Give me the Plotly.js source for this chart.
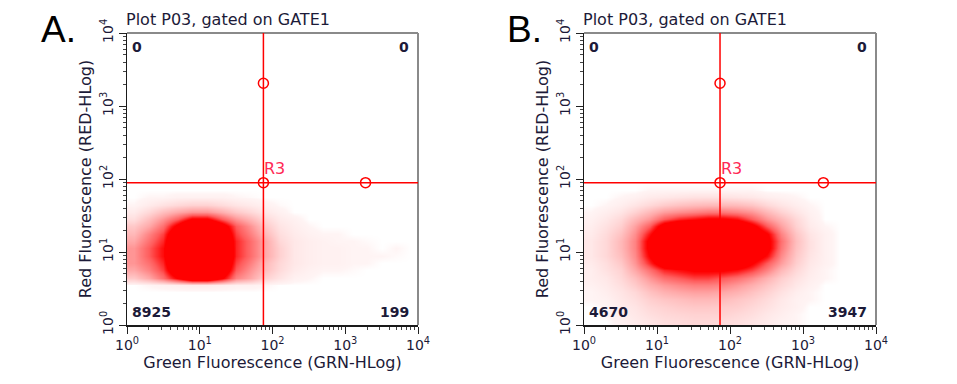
<!DOCTYPE html>
<html>
<head>
<meta charset="utf-8">
<script src="https://cdn.plot.ly/plotly-3.0.1.min.js"></script>
<style>
  html, body { margin: 0; padding: 0; background: #ffffff; }
  #chart { width: 957px; height: 384px; }
</style>
</head>
<body>
<div id="chart"></div>
<script>
// ---------- DATA ----------
const panelLabels = ["A.", "B."];
const plotTitle = "Plot P03, gated on GATE1";
const xAxisTitle = "Green Fluorescence (GRN-HLog)";
const yAxisTitle = "Red Fluorescence (RED-HLog)";
const decades = [0, 1, 2, 3, 4];
const tickLabels = ["10<sup>0</sup>", "10<sup>1</sup>", "10<sup>2</sup>", "10<sup>3</sup>", "10<sup>4</sup>"];

// density grid cell centres, in decades (log10 of fluorescence)
const greenDecadeCenters = [0.1, 0.3, 0.5, 0.7, 0.9, 1.1, 1.3, 1.5, 1.7, 1.9, 2.1, 2.3, 2.5, 2.7, 2.9, 3.1, 3.3, 3.5, 3.7, 3.9];
const redDecadeCenters = [0.05, 0.15, 0.25, 0.35, 0.45, 0.55, 0.65, 0.75, 0.85, 0.95, 1.05, 1.15, 1.25, 1.35, 1.45, 1.55, 1.65, 1.75, 1.85, 1.95];

// relative event density (rows = red bins, bottom to top)
const densityA = [
  [0,0,0,0,0,0,0,0,0,0,0,0,0,0,0,0,0,0,0,0],
  [0,0,0,0,0,0,0,0,0,0,0,0,0,0,0,0,0,0,0,0],
  [0,0,0,0,0,0,0,0,0,0,0,0,0,0,0,0,0,0,0,0],
  [0,0,0,0,0,0,0,0,0,0,0,0,0,0,0,0,0,0,0,0],
  [0,0,0,0,0,0,0,0,0,0,0,0,0,0,0,0,0,0,0,0],
  [0,0.1,0.2,0.3,0.4,0.4,0.3,0.2,0.2,0.1,0,0,0,0,0,0,0,0,0,0],
  [1.5,2.5,4,6.5,9,9,6.5,3.5,2.5,1.2,0.6,0.2,0.1,0,0,0,0,0,0,0],
  [2.5,3.5,5,9,10,10,8.5,4.5,3,1.8,0.9,0.4,0.2,0.1,0.1,0.05,0,0,0,0],
  [3,4,5.5,10,10,10,9.5,5,3.5,2,1,0.5,0.3,0.2,0.2,0.1,0.1,0,0,0],
  [3,4.5,6,10,10,10,10,5.5,4,2.5,1.2,0.5,0.3,0.2,0.2,0.1,0.1,0.1,0.05,0],
  [3,4.5,6,10,10,10,10,5.5,4,2.5,1.2,0.5,0.3,0.2,0.2,0.1,0.1,0,0.1,0],
  [2.5,4,5.5,10,10,10,9.5,5.5,4,2.5,1,0.5,0.3,0.2,0.1,0.1,0.05,0,0,0],
  [2,3.5,5,9,10,10,9,5,3.5,2,0.8,0.4,0.2,0.1,0.1,0,0,0,0,0],
  [1.5,2.5,4,7,10,10,7.5,4.5,3,1.5,0.6,0.3,0.1,0,0,0,0,0,0,0],
  [0.8,1.8,3,4.5,6.5,6.5,4.5,3,2,1,0.4,0.2,0,0,0,0,0,0,0,0],
  [0.4,1,1.8,2.5,3,3,2.3,1.5,1,0.5,0.2,0,0,0,0,0,0,0,0,0],
  [0.1,0.4,0.7,1,1.2,1.2,0.9,0.6,0.4,0.2,0.05,0,0,0,0,0,0,0,0,0],
  [0,0.1,0.1,0.2,0.2,0.2,0.2,0.1,0.05,0,0,0,0,0,0,0,0,0,0,0],
  [0,0,0,0,0,0,0,0,0,0,0,0,0,0,0,0,0,0,0,0],
  [0,0,0,0,0,0,0,0,0,0,0,0,0,0,0,0,0,0,0,0]
];
const densityB = [
  [0,0,0.2,0.4,0.6,0.8,0.9,1,1,0.9,0.8,0.6,0.4,0.2,0.1,0,0,0,0,0],
  [0,0.1,0.3,0.5,0.8,1,1.1,1.2,1.2,1.2,1,0.8,0.5,0.3,0.1,0,0,0,0,0],
  [0,0.1,0.4,0.6,1,1.2,1.4,1.5,1.5,1.4,1.3,1,0.7,0.4,0.2,0,0,0,0,0],
  [0.1,0.2,0.5,0.8,1.3,1.6,1.8,2,2,1.9,1.6,1.3,0.9,0.5,0.2,0.1,0,0,0,0],
  [0.1,0.3,0.6,1,1.7,2.2,2.5,2.7,2.7,2.5,2.2,1.7,1.2,0.7,0.3,0.1,0,0,0,0],
  [0.2,0.4,0.8,1.4,2.3,2.9,3.3,3.6,3.6,3.4,2.9,2.3,1.6,1,0.5,0.2,0,0,0,0],
  [0.3,0.5,1,1.8,3,4,4.5,5,5,4.5,4,3.2,2.2,1.3,0.7,0.3,0.1,0,0,0],
  [0.3,0.7,1.2,2.5,4,5.5,6,6.5,6.5,6.5,6,5,3.5,2,1,0.4,0.1,0,0,0],
  [0.4,0.8,1.5,3,5.5,8,9,9.5,9.5,9,8.5,6.5,4.5,2.8,1.3,0.5,0.2,0,0,0],
  [0.5,1,1.8,3.3,6.5,9,10,10,10,10,9.5,8,6,3.3,1.5,0.6,0.2,0,0,0],
  [0.5,1,2,3.5,7,9.5,10,10,10,10,10,9,7,3.8,1.7,0.7,0.2,0,0,0],
  [0.5,1,2,3.5,7,9.5,10,10,10,10,10,9,7,4,1.8,0.7,0.2,0,0,0],
  [0.4,0.9,1.7,3.2,6,9,10,10,10,10,10,8.5,6.5,3.5,1.6,0.6,0.2,0,0,0],
  [0.3,0.7,1.3,2.7,4.5,7.5,9,9.5,9.5,9.5,9,7,4.5,2.7,1.2,0.4,0.1,0,0,0],
  [0.2,0.5,1,2,3,4.5,5.5,6,6.5,6.5,6,4.5,3,2,1,0.3,0,0,0,0],
  [0.1,0.3,0.6,1.2,2,2.8,3.2,3.5,3.8,3.8,3.5,3,2,1.2,0.6,0.2,0,0,0,0],
  [0,0.1,0.3,0.6,1,1.4,1.7,1.9,2,2,1.9,1.6,1,0.6,0.3,0.1,0,0,0,0],
  [0,0,0.1,0.2,0.4,0.5,0.6,0.7,0.7,0.7,0.6,0.5,0.3,0.2,0.1,0,0,0,0,0],
  [0,0,0,0,0.1,0.1,0.1,0.1,0.1,0.1,0.1,0.1,0,0,0,0,0,0,0,0],
  [0,0,0,0,0,0,0,0,0,0,0,0,0,0,0,0,0,0,0,0]
];

// quadrant gate R3: thresholds and handle positions (fluorescence units)
const gateGreenA = 75, gateGreenB = 73, gateRed = 89;
const handleGreenA = [75, 75, 1900];
const handleGreenB = [73, 73, 1900];
const handleRed = [2050, 89, 89];
const gateName = "R3";

// quadrant counts: [upper-left, upper-right, lower-left, lower-right]
const countsA = [0, 0, 8925, 199];
const countsB = [0, 0, 4670, 3947];

// ---------- STYLE / LAYOUT ----------
const W = 957, H = 384;
const red = "#ff0000";
const textDark = "#1c1a38";
const fontFam = "DejaVu Sans, Verdana, sans-serif";
const px = v => v / W;
const py = v => 1 - v / H;

const panels = [
  {left: 127, right: 418, xa: "x", ya: "y", dens: densityA, gx: gateGreenA, hx: handleGreenA, counts: countsA, label: panelLabels[0], labelX: 39},
  {left: 584, right: 876, xa: "x2", ya: "y2", dens: densityB, gx: gateGreenB, hx: handleGreenB, counts: countsB, label: panelLabels[1], labelX: 505}
];
const plotTop = 33, plotBottom = 325;

const minorVals = [];
for (let k = 0; k < 4; k++) for (let m = 2; m <= 9; m++) minorVals.push(k + Math.log10(m));

const colorscale = [
  [0, "#ffffff"], [0.01, "#fff4f4"], [0.1, "#ffd8d8"], [0.25, "#ffa8a8"],
  [0.45, "#ff5c5c"], [0.58, "#ff1414"], [0.63, "#ff0000"], [1, "#ff0000"]
];

const data = [];
const shapes = [];
const annotations = [];
const layout = {
  width: W, height: H,
  margin: {l: 0, r: 0, t: 0, b: 0},
  paper_bgcolor: "#ffffff", plot_bgcolor: "#ffffff",
  showlegend: false,
  font: {family: fontFam, color: textDark}
};

panels.forEach((p, i) => {
  const suffix = i === 0 ? "" : "2";
  data.push({
    type: "heatmap", xaxis: p.xa, yaxis: p.ya,
    x: greenDecadeCenters, y: redDecadeCenters, z: p.dens,
    zmin: 0, zmax: 10, zsmooth: "best", colorscale: colorscale,
    showscale: false, hoverinfo: "skip"
  });
  data.push({
    type: "scatter", mode: "markers", xaxis: p.xa, yaxis: p.ya,
    x: p.hx.map(Math.log10), y: handleRed.map(Math.log10),
    marker: {symbol: "circle-open", size: 10, color: red, line: {width: 1.5, color: red}},
    hoverinfo: "skip", cliponaxis: false
  });
  const axCommon = {
    range: [0, 4], tickmode: "array", tickvals: decades, ticktext: tickLabels,
    ticks: "outside", ticklen: 7, tickwidth: 1, tickcolor: "#222",
    minor: {tickmode: "array", tickvals: minorVals, ticks: "outside", ticklen: 3, tickwidth: 1, tickcolor: "#444"},
    showgrid: false, zeroline: false, showline: true, linecolor: "#1a1a1a", linewidth: 1.5, mirror: false,
    tickfont: {family: fontFam, size: 14, color: textDark}, fixedrange: true
  };
  layout["xaxis" + suffix] = Object.assign({}, axCommon, {
    domain: [px(p.left), px(p.right)], anchor: "y" + suffix,
    title: {text: xAxisTitle, font: {family: fontFam, size: 16, color: textDark}, standoff: 4}
  });
  layout["yaxis" + suffix] = Object.assign({}, axCommon, {
    domain: [py(plotBottom), py(plotTop)], anchor: "x" + suffix, tickangle: -90,
    title: {text: yAxisTitle, font: {family: fontFam, size: 16, color: textDark}, standoff: 2}
  });
  shapes.push({type: "line", xref: p.xa + " domain", yref: p.ya + " domain", x0: 0, x1: 1, y0: 1, y1: 1, line: {color: "#8a8a8a", width: 2}});
  shapes.push({type: "line", xref: p.xa + " domain", yref: p.ya + " domain", x0: 1, x1: 1, y0: 0, y1: 1, line: {color: "#8a8a8a", width: 2}});
  shapes.push({type: "line", xref: p.xa, yref: p.ya + " domain", x0: Math.log10(p.gx), x1: Math.log10(p.gx), y0: 0, y1: 1, line: {color: red, width: 1.5}});
  shapes.push({type: "line", xref: p.xa + " domain", yref: p.ya, x0: 0, x1: 1, y0: Math.log10(gateRed), y1: Math.log10(gateRed), line: {color: red, width: 1.5}});
  annotations.push({xref: p.xa, yref: p.ya, x: Math.log10(p.gx), y: Math.log10(gateRed), text: gateName, showarrow: false,
    xanchor: "left", yanchor: "bottom", xshift: -1, yshift: 3, font: {family: fontFam, size: 16, color: "#ff2a55"}});
  annotations.push({xref: "paper", yref: "paper", x: px(p.labelX), y: py(7), text: p.label, showarrow: false,
    xanchor: "left", yanchor: "top", font: {family: "Liberation Sans, Arial, sans-serif", size: 37, color: "#000"}});
  annotations.push({xref: "paper", yref: "paper", x: px(p.left - 3), y: py(31), text: plotTitle, showarrow: false,
    xanchor: "left", yanchor: "bottom", font: {family: fontFam, size: 16, color: textDark}});
  const cf = {family: fontFam, size: 14, color: textDark, weight: "bold"};
  annotations.push({xref: "paper", yref: "paper", x: px(p.left + 3), y: py(47), text: "<b>" + p.counts[0] + "</b>", showarrow: false, xanchor: "left", yanchor: "middle", font: cf});
  annotations.push({xref: "paper", yref: "paper", x: px(p.right - 7), y: py(47), text: "<b>" + p.counts[1] + "</b>", showarrow: false, xanchor: "right", yanchor: "middle", font: cf});
  annotations.push({xref: "paper", yref: "paper", x: px(p.left + 3), y: py(312), text: "<b>" + p.counts[2] + "</b>", showarrow: false, xanchor: "left", yanchor: "middle", font: cf});
  annotations.push({xref: "paper", yref: "paper", x: px(p.right - 7), y: py(312), text: "<b>" + p.counts[3] + "</b>", showarrow: false, xanchor: "right", yanchor: "middle", font: cf});
});

layout.shapes = shapes;
layout.annotations = annotations;

Plotly.newPlot("chart", data, layout, {displayModeBar: false, staticPlot: true});
</script>
</body>
</html>
